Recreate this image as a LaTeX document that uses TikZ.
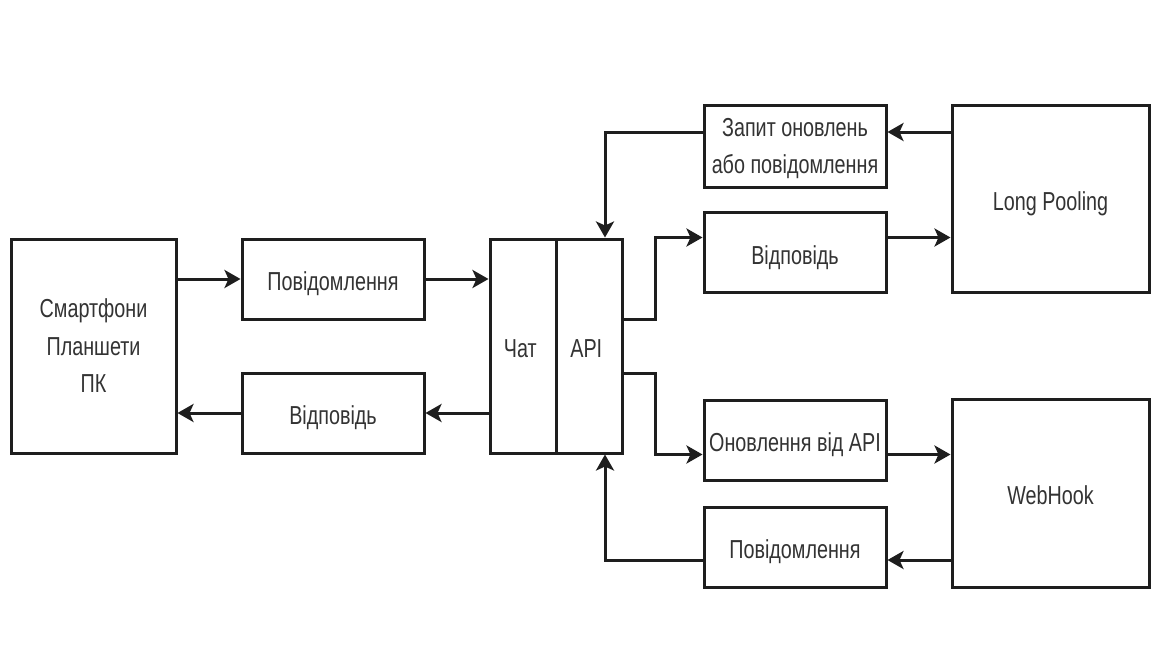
\documentclass[tikz,border=0pt]{standalone}
\usepackage{fontspec}
\setmainfont[FakeStretch=0.76]{Liberation Sans}
\usetikzlibrary{matrix,arrows.meta}

\definecolor{edgegray}{HTML}{1E1E1E}
\definecolor{textgray}{HTML}{333333}

\tikzset{
    box/.style={draw=edgegray, line width=3pt, fill=white, text=textgray, align=center,
        font=\fontsize{26}{37.5}\selectfont, minimum width=182pt, minimum height=80pt, inner sep=0pt,
        text height=29.8pt, text depth=6pt},
    tallbox/.style={box, text height=, text depth=-5pt},
    arr/.style={draw=edgegray, line width=3pt, -{Stealth[length=16pt,width=18pt,inset=4pt]}},
}

\begin{document}
\begin{tikzpicture}[x=1pt, y=-1pt]
    \useasboundingbox[fill=white] (0,0) rectangle (1155,661);

    \node[tallbox, minimum width=165pt, minimum height=214pt] (devices) at (93.5,346) {Смартфони\\Планшети\\ПК};
    \node[box] (msg) at (333,279) {Повідомлення};
    \node[box] (ans) at (333,413) {Відповідь};

    \matrix [matrix of nodes, nodes={box, anchor=center, minimum width=66pt, minimum height=214pt},
        column sep=-3pt, inner sep=0pt] at (556,346)
      {
        |(chat)| Чат &
        |(api)| API \\
      };

    \node[tallbox, minimum height=82pt] (req) at (795,146) {Запит оновлень\\або повідомлення};
    \node[box] (lpans) at (795,252.5) {Відповідь};
    \node[box] (upd) at (795,440) {Оновлення від API};
    \node[box] (hookmsg) at (795,547) {Повідомлення};
    \node[box, minimum width=197pt, minimum height=187pt] (pooling) at (1050.5,198.5) {Long Pooling};
    \node[box, minimum width=197pt, minimum height=188pt] (hook) at (1050.5,493) {WebHook};

    \coordinate (reqlvl) at ([yshift=14pt]req.east);
    \coordinate (hooklvl) at ([yshift=-13pt]hookmsg.east);

    % devices <-> chat
    \draw[arr] (devices.east |- msg) -- (msg.west);
    \draw[arr] (msg.east) -- (chat.west |- msg);
    \draw[arr] (chat.west |- ans) -- (ans.east);
    \draw[arr] (ans.west) -- (devices.east |- ans);

    % long pooling
    \draw[arr] (pooling.west |- reqlvl) -- (reqlvl);
    \draw[arr] (req.west |- reqlvl) -| ([xshift=16pt]api.north);
    \draw[arr] ([yshift=27pt]api.east) -| ([xshift=32pt]api.north east) -- (lpans.west |- api.north);
    \draw[arr] (lpans.east |- api.north) -- (pooling.west |- api.north);

    % webhook
    \draw[arr] ([yshift=-27pt]api.east) -| ([xshift=32pt]api.south east) -- (upd.west |- api.south);
    \draw[arr] (upd.east |- api.south) -- (hook.west |- api.south);
    \draw[arr] (hook.west |- hooklvl) -- (hooklvl);
    \draw[arr] (hookmsg.west |- hooklvl) -| ([xshift=16pt]api.south);
\end{tikzpicture}
\end{document}
